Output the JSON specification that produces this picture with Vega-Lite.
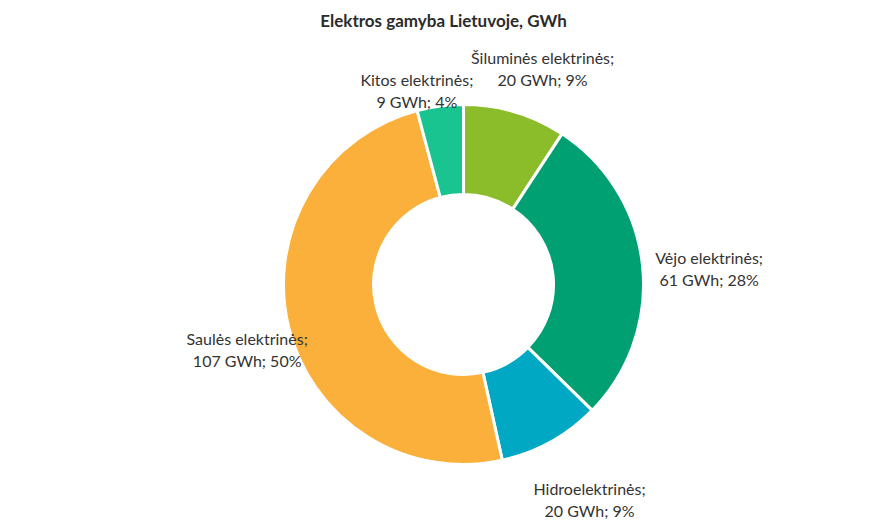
{
  "$schema": "https://vega.github.io/schema/vega-lite/v6.json",
  "width": 887,
  "height": 521,
  "autosize": {"type": "fit", "contains": "padding"},
  "padding": {"top": 18, "bottom": 0, "left": 40, "right": 0},
  "background": "white",
  "title": {"text": "Elektros gamyba Lietuvoje, GWh", "font": "Lato", "fontSize": 17, "fontWeight": "bold", "color": "#2b2b2b", "anchor": "middle", "offset": 12, "dx": -20},
  "data": {
    "values": [
      {"order": 1, "name": "Šiluminės elektrinės", "value": 20, "pct": "9%"},
      {"order": 2, "name": "Vėjo elektrinės", "value": 61, "pct": "28%"},
      {"order": 3, "name": "Hidroelektrinės", "value": 20, "pct": "9%"},
      {"order": 4, "name": "Saulės elektrinės", "value": 107, "pct": "50%"},
      {"order": 5, "name": "Kitos elektrinės", "value": 9, "pct": "4%"}
    ]
  },
  "transform": [
    {"calculate": "[datum.name + ';', datum.value + ' GWh; ' + datum.pct]", "as": "label"}
  ],
  "encoding": {
    "theta": {"field": "value", "type": "quantitative", "stack": true},
    "order": {"field": "order", "type": "quantitative"}
  },
  "layer": [
    {
      "mark": {"type": "arc", "outerRadius": 180, "innerRadius": 90, "stroke": "white", "strokeWidth": 3},
      "encoding": {
        "color": {
          "field": "name", "type": "nominal", "legend": null,
          "scale": {
            "domain": ["Šiluminės elektrinės", "Vėjo elektrinės", "Hidroelektrinės", "Saulės elektrinės", "Kitos elektrinės"],
            "range": ["#8BBD2A", "#00A073", "#00A8C4", "#FBB03B", "#19C490"]
          }
        }
      }
    },
    {
      "mark": {"type": "text", "radius": 235, "dx": 12, "font": "Lato", "fontSize": 16, "color": "#333333", "align": "center", "baseline": "middle", "lineHeight": 22},
      "encoding": {
        "text": {"field": "label"},
        "opacity": {"condition": {"test": "datum.name === 'Kitos elektrinės'", "value": 0}, "value": 1}
      }
    },
    {
      "mark": {"type": "text", "radius": 205, "dx": -20, "font": "Lato", "fontSize": 16, "color": "#333333", "align": "center", "baseline": "middle", "lineHeight": 22},
      "encoding": {
        "text": {"field": "label"},
        "opacity": {"condition": {"test": "datum.name === 'Kitos elektrinės'", "value": 1}, "value": 0}
      }
    }
  ],
  "config": {"view": {"stroke": null}}
}
